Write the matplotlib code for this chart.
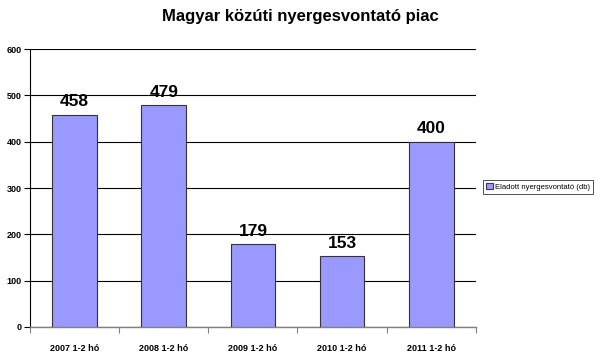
import matplotlib
matplotlib.use("Agg")
import matplotlib.pyplot as plt
from matplotlib.patches import Patch

categories = ["2007 1-2 hó", "2008 1-2 hó", "2009 1-2 hó", "2010 1-2 hó", "2011 1-2 hó"]
values = [458, 479, 179, 153, 400]
series_name = "Eladott nyergesvontató (db)"
title = "Magyar közúti nyergesvontató piac"

plt.rcParams['font.family'] = ['Liberation Sans', 'DejaVu Sans']

fig = plt.figure(figsize=(6, 3.6), dpi=100)
ax = fig.add_axes([0.05, 0.0917, 0.743, 0.772])

x = list(range(len(categories)))
ax.bar(x, values, width=0.5, color="#9999FF", edgecolor="#333333", linewidth=0.8, zorder=3)
for xi, v in zip(x, values):
    ax.text(xi, v + 12, str(v), ha="center", va="bottom", fontsize=12.5, fontweight="bold", zorder=4)

ax.set_xlim(-0.5, len(categories) - 0.5)
ax.set_ylim(0, 600)
ax.set_yticks(range(0, 601, 100))
ax.yaxis.grid(True, color="black", linewidth=0.8, zorder=0)
ax.set_axisbelow(True)

ax.set_xticks(x)
ax.set_xticklabels(categories, fontsize=6.5, fontweight="bold")
ax.set_xticks([i + 0.5 for i in range(-1, len(categories))], minor=True)
ax.tick_params(axis="x", which="major", length=0, pad=12)
ax.tick_params(axis="x", which="minor", length=4, color="#808080", width=0.8)
ax.tick_params(axis="y", length=4, width=0.8, labelsize=6.5, pad=2)
for lbl in ax.get_yticklabels():
    lbl.set_fontweight("bold")

for s in ["top", "right"]:
    ax.spines[s].set_visible(False)
ax.spines["left"].set_color("black")
ax.spines["left"].set_linewidth(0.8)
ax.spines["bottom"].set_color("#808080")
ax.spines["bottom"].set_linewidth(1.0)

fig.text(0.5, 0.955, title, ha="center", va="center", fontsize=12, fontweight="bold")

handle = Patch(facecolor="#9999FF", edgecolor="#333366", linewidth=0.8)
leg = fig.legend([handle], [series_name], loc="center", bbox_to_anchor=(0.897, 0.48),
                 fontsize=5.5, frameon=True, fancybox=False, edgecolor="black",
                 handlelength=0.8, handleheight=0.8, handletextpad=0.3,
                 borderpad=0.4, borderaxespad=0)
leg.get_frame().set_linewidth(0.6)

fig.savefig("out.png", dpi=100, facecolor="white")
